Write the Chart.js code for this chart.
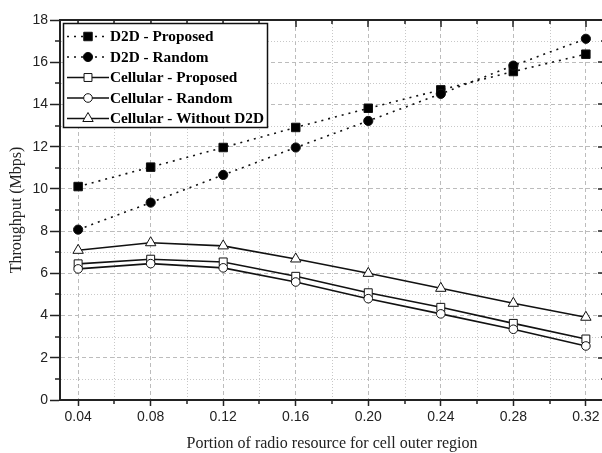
<!DOCTYPE html>
<html>
<head>
<meta charset="utf-8">
<script src="https://cdn.jsdelivr.net/npm/chart.js@4.4.1/dist/chart.umd.min.js"></script>
<style>
html,body{margin:0;padding:0;background:#fff;overflow:hidden}
#wrap{width:602px;height:453px;overflow:hidden;position:relative}
canvas{display:block;position:absolute;left:0;top:0}
</style>
</head>
<body>
<div id="wrap"><canvas id="c" width="606" height="453"></canvas></div>
<script>
// ---- data ----
const xValues = [0.04, 0.08, 0.12, 0.16, 0.20, 0.24, 0.28, 0.32];
const d2dProposed = [10.11, 11.03, 11.96, 12.91, 13.82, 14.69, 15.56, 16.38];
const d2dRandom = [8.07, 9.35, 10.66, 11.96, 13.22, 14.50, 15.84, 17.11];
const cellularProposed = [6.45, 6.67, 6.54, 5.86, 5.08, 4.39, 3.63, 2.89];
const cellularRandom = [6.21, 6.46, 6.26, 5.59, 4.80, 4.08, 3.35, 2.56];
const cellularWithoutD2D = [7.09, 7.45, 7.30, 6.68, 6.00, 5.29, 4.58, 3.92];
const seriesNames = ['D2D - Proposed', 'D2D - Random', 'Cellular - Proposed', 'Cellular - Random', 'Cellular - Without D2D'];

const xMajorTicks = [0.04, 0.08, 0.12, 0.16, 0.20, 0.24, 0.28, 0.32];
const xTickLabels = ['0.04', '0.08', '0.12', '0.16', '0.20', '0.24', '0.28', '0.32'];
const xMinorTicks = [0.06, 0.10, 0.14, 0.18, 0.22, 0.26, 0.30];
const yMajorTicks = [0, 2, 4, 6, 8, 10, 12, 14, 16, 18];
const yTickLabels = ['0', '2', '4', '6', '8', '10', '12', '14', '16', '18'];
const yMinorTicks = [1, 3, 5, 7, 9, 11, 13, 15, 17];

const xTitle = 'Portion of radio resource for cell outer region';
const yTitle = 'Throughput (Mbps)';

// ---- helpers ----
const toPoints = arr => xValues.map((x, i) => ({x: x, y: arr[i]}));
const tickFont = {family: "'Liberation Sans', Arial, sans-serif", size: 14};
const titleFont = {family: "'Liberation Serif', 'Times New Roman', serif", size: 16};
const AXIS = '#222';
const MAJOR_GRID = '#bcbcbc';
const MINOR_GRID = '#c8c8c8';

function markerPath(ctx, style, r, x, y) {
  ctx.beginPath();
  if (style === 'rect') {
    const s = Math.SQRT1_2 * r;
    ctx.rect(x - s, y - s, 2 * s, 2 * s);
  } else if (style === 'triangle') {
    let rad = 0;
    ctx.moveTo(x + Math.sin(rad) * r, y - Math.cos(rad) * r);
    rad += 2 * Math.PI / 3;
    ctx.lineTo(x + Math.sin(rad) * r, y - Math.cos(rad) * r);
    rad += 2 * Math.PI / 3;
    ctx.lineTo(x + Math.sin(rad) * r, y - Math.cos(rad) * r);
    ctx.closePath();
  } else {
    ctx.arc(x, y, r, 0, Math.PI * 2);
    ctx.closePath();
  }
}

const framePlugin = {
  id: 'frame',
  beforeDatasetsDraw(chart) {
    const {ctx, chartArea: a, scales: {x, y}} = chart;
    ctx.save();
    ctx.strokeStyle = MINOR_GRID;
    ctx.lineWidth = 1;
    ctx.setLineDash([1, 2]);
    xMinorTicks.forEach(v => {
      const px = Math.round(x.getPixelForValue(v)) + 0.5;
      ctx.beginPath(); ctx.moveTo(px, a.top + 1); ctx.lineTo(px, a.bottom - 1); ctx.stroke();
    });
    yMinorTicks.forEach(v => {
      const py = Math.round(y.getPixelForValue(v)) + 0.5;
      ctx.beginPath(); ctx.moveTo(a.left + 1, py); ctx.lineTo(a.right - 1, py); ctx.stroke();
    });
    ctx.restore();
  },
  afterDatasetsDraw(chart) {
    const {ctx, chartArea: a, scales: {x, y}} = chart;
    ctx.save();
    ctx.setLineDash([]);
    ctx.strokeStyle = AXIS;
    ctx.lineWidth = 2;
    ctx.beginPath(); ctx.moveTo(a.left - 1, a.top); ctx.lineTo(a.right + 1, a.top); ctx.stroke();
    ctx.beginPath(); ctx.moveTo(a.right, a.top); ctx.lineTo(a.right, a.bottom); ctx.stroke();
    ctx.lineWidth = 1.5;
    const vt = (px, y1, y2) => { ctx.beginPath(); ctx.moveTo(px, y1); ctx.lineTo(px, y2); ctx.stroke(); };
    const ht = (py, x1, x2) => { ctx.beginPath(); ctx.moveTo(x1, py); ctx.lineTo(x2, py); ctx.stroke(); };
    xMajorTicks.forEach(v => { const px = Math.round(x.getPixelForValue(v)); vt(px, a.top, a.top + 7); });
    xMinorTicks.forEach(v => { const px = Math.round(x.getPixelForValue(v)); vt(px, a.top, a.top + 4); vt(px, a.bottom, a.bottom + 4); });
    yMajorTicks.forEach(v => { const py = Math.round(y.getPixelForValue(v)); ht(py, a.right - 6, a.right); });
    yMinorTicks.forEach(v => { const py = Math.round(y.getPixelForValue(v)); ht(py, a.right - 3, a.right); ht(py, a.left - 5, a.left); });
    ctx.restore();
  },
  afterDraw(chart) {
    const ctx = chart.ctx;
    const box = {x: 63.5, y: 23.5, w: 204, h: 104};
    ctx.save();
    ctx.setLineDash([]);
    ctx.fillStyle = '#fff';
    ctx.fillRect(box.x, box.y, box.w, box.h);
    ctx.strokeStyle = '#111';
    ctx.lineWidth = 1.5;
    ctx.strokeRect(box.x, box.y, box.w, box.h);
    chart.data.datasets.forEach((ds, i) => {
      const cy = 36.5 + i * 20.5;
      ctx.save();
      ctx.strokeStyle = ds.borderColor;
      ctx.lineWidth = ds.borderWidth;
      ctx.setLineDash(ds.borderDash || []);
      ctx.beginPath(); ctx.moveTo(67, cy); ctx.lineTo(109, cy); ctx.stroke();
      ctx.restore();
      ctx.setLineDash([]);
      ctx.fillStyle = ds.pointBackgroundColor;
      ctx.strokeStyle = ds.pointBorderColor;
      ctx.lineWidth = ds.pointBorderWidth;
      markerPath(ctx, ds.pointStyle, ds.pointRadius, 88, cy);
      ctx.fill();
      ctx.stroke();
      ctx.fillStyle = '#000';
      ctx.font = "bold 15.3px 'Liberation Serif', 'Times New Roman', serif";
      ctx.textBaseline = 'middle';
      ctx.textAlign = 'left';
      ctx.fillText(ds.label, 110, cy + 1);
    });
    ctx.restore();
  }
};

const common = {borderColor: '#111', pointBorderColor: '#111', tension: 0, fill: false};

new Chart(document.getElementById('c'), {
  type: 'line',
  data: {
    datasets: [
      Object.assign({}, common, {label: seriesNames[0], data: toPoints(d2dProposed), borderWidth: 1.6, borderDash: [2, 5],
        pointStyle: 'rect', pointRadius: 6, pointBackgroundColor: '#000', pointBorderWidth: 1, order: 1}),
      Object.assign({}, common, {label: seriesNames[1], data: toPoints(d2dRandom), borderWidth: 1.6, borderDash: [2, 5],
        pointStyle: 'circle', pointRadius: 4.6, pointBackgroundColor: '#000', pointBorderWidth: 1, order: 0}),
      Object.assign({}, common, {label: seriesNames[2], data: toPoints(cellularProposed), borderWidth: 1.6,
        pointStyle: 'rect', pointRadius: 5.6, pointBackgroundColor: '#fff', pointBorderWidth: 1, order: 3}),
      Object.assign({}, common, {label: seriesNames[3], data: toPoints(cellularRandom), borderWidth: 1.6,
        pointStyle: 'circle', pointRadius: 4.3, pointBackgroundColor: '#fff', pointBorderWidth: 1, order: 2}),
      Object.assign({}, common, {label: seriesNames[4], data: toPoints(cellularWithoutD2D), borderWidth: 1.6,
        pointStyle: 'triangle', pointRadius: 6, pointBackgroundColor: '#fff', pointBorderWidth: 1, order: 4})
    ]
  },
  options: {
    responsive: false,
    animation: false,
    devicePixelRatio: 1,
    layout: {autoPadding: false, padding: {top: 20, right: 2, left: 0, bottom: 0}},
    plugins: {legend: {display: false}, tooltip: {enabled: false}},
    elements: {point: {hoverRadius: 5}},
    scales: {
      x: {
        type: 'linear', position: 'bottom', min: 0.03, max: 0.33,
        afterBuildTicks: s => { s.ticks = xMajorTicks.map(v => ({value: v})); },
        afterFit: s => { s.height = 53; },
        ticks: {
          autoSkip: false, maxRotation: 0, padding: 3, font: tickFont, color: AXIS,
          callback: v => { const i = xMajorTicks.findIndex(t => Math.abs(t - v) < 1e-9); return i >= 0 ? xTickLabels[i] : ''; }
        },
        grid: {color: MAJOR_GRID, lineWidth: 1, tickColor: AXIS, tickLength: 6, tickWidth: 1.5},
        border: {color: AXIS, width: 2, dash: [4, 3]},
        title: {display: true, text: xTitle, font: titleFont, color: '#222', padding: {top: 0, bottom: 0}}
      },
      y: {
        type: 'linear', position: 'left', min: 0, max: 18,
        afterBuildTicks: s => { s.ticks = yMajorTicks.map(v => ({value: v})); },
        afterFit: s => { s.width = 60; },
        ticks: {
          padding: 2, font: tickFont, color: AXIS,
          callback: v => { const i = yMajorTicks.indexOf(v); return i >= 0 ? yTickLabels[i] : ''; }
        },
        grid: {color: MAJOR_GRID, lineWidth: 1, tickColor: AXIS, tickLength: 10, tickWidth: 1.5},
        border: {color: AXIS, width: 2, dash: [4, 3]},
        title: {display: true, text: yTitle, font: titleFont, color: '#222', padding: {top: 7, bottom: 0}}
      }
    }
  },
  plugins: [framePlugin]
});
</script>
</body>
</html>
